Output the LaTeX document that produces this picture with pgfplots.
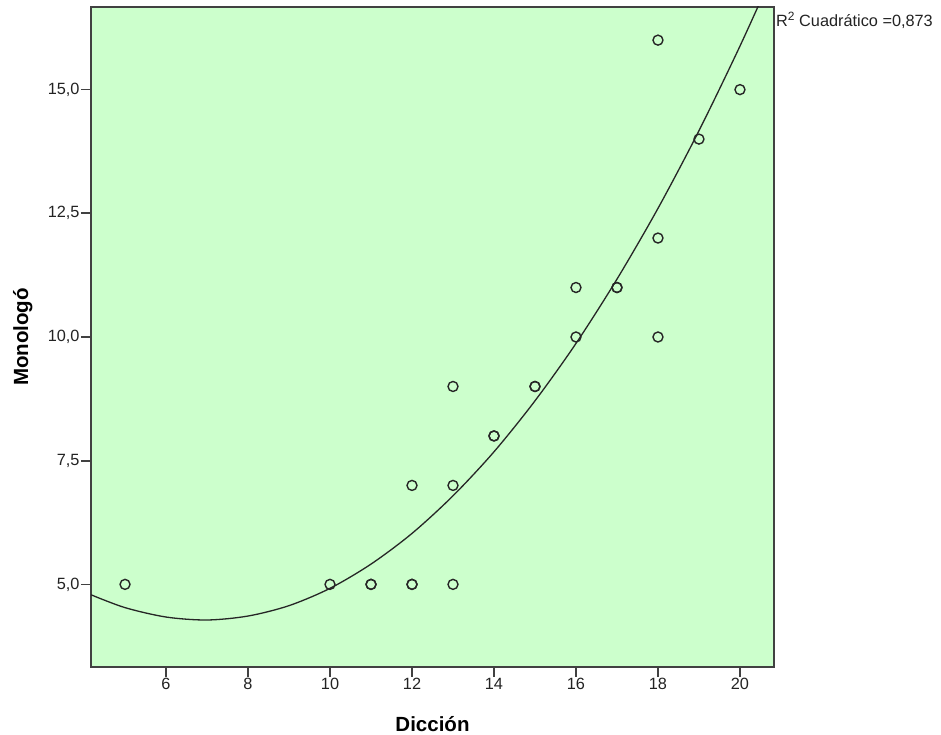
\documentclass[border=0pt]{standalone}
\usepackage{pgfplots}
\pgfplotsset{compat=1.18}
\usepackage{fontspec}
\setmainfont{Liberation Sans}
\definecolor{bg}{RGB}{204,255,204}
\definecolor{axc}{RGB}{65,65,65}
\definecolor{txt}{RGB}{35,35,35}
\begin{document}
\begin{tikzpicture}
\useasboundingbox (0,0) rectangle (941bp,735bp);
\begin{axis}[
 name=ax,
 at={(91bp,68bp)}, anchor=south west,
 scale only axis, width=683bp, height=660bp,
 xmin=4.17, xmax=20.83, ymin=3.33, ymax=16.67,
 axis background/.style={fill=bg},
 axis line style={axc, line width=1.7bp},
 tick pos=left, tick align=outside,
 major tick length=10bp,
 every tick/.style={axc, line width=1.7bp},
 xtick={6,8,...,20},
 ytick={5,7.5,10,12.5,15},
 /pgf/number format/assume math mode=true,
 yticklabel style={/pgf/number format/fixed, /pgf/number format/fixed zerofill, /pgf/number format/precision=1, /pgf/number format/use comma, xshift=2bp},
 xticklabel style={yshift=2bp},
 ticklabel style={font=\fontsize{16.3bp}{19bp}\selectfont, text=txt},
 xlabel={Dicción}, ylabel={Monologó},
 label style={font=\bfseries\fontsize{20.5bp}{24bp}\selectfont, text=black},
 xlabel style={at={(axis description cs:0.5,-0.097)}, anchor=base},
 ylabel style={at={(axis description cs:-0.092,0.5)}, anchor=base},
]
\addplot[smooth, draw=black!85, line width=1.3bp] coordinates {
(4.17,4.79) (5,4.53) (6,4.34) (7,4.28) (8,4.36) (9,4.57) (10,4.92)
(11,5.41) (12,6.03) (13,6.79) (14,7.68) (15,8.71) (16,9.87)
(17,11.17) (18,12.60) (19,14.17) (20,15.88) (20.83,17.40)
};
\addplot[only marks, mark=o, mark size=5bp, mark options={line width=1.4bp, draw=black!85}] coordinates {
(5,5) (10,5) (11,5) (11,5) (12,5) (12,5) (12,7) (13,9) (13,7) (13,5)
(14,8) (14,8) (15,9) (15,9) (16,11) (16,10) (17,11) (17,11)
(18,16) (18,12) (18,10) (19,14) (20,15)
};
\end{axis}
\node[anchor=base west, inner sep=0pt, font=\fontsize{16.3bp}{19bp}\selectfont, text=txt] at ([xshift=2bp,yshift=-20bp]ax.north east) {R\raisebox{0.4em}{\fontsize{12bp}{14bp}\selectfont 2} Cuadrático =0,873};
\end{tikzpicture}
\end{document}
